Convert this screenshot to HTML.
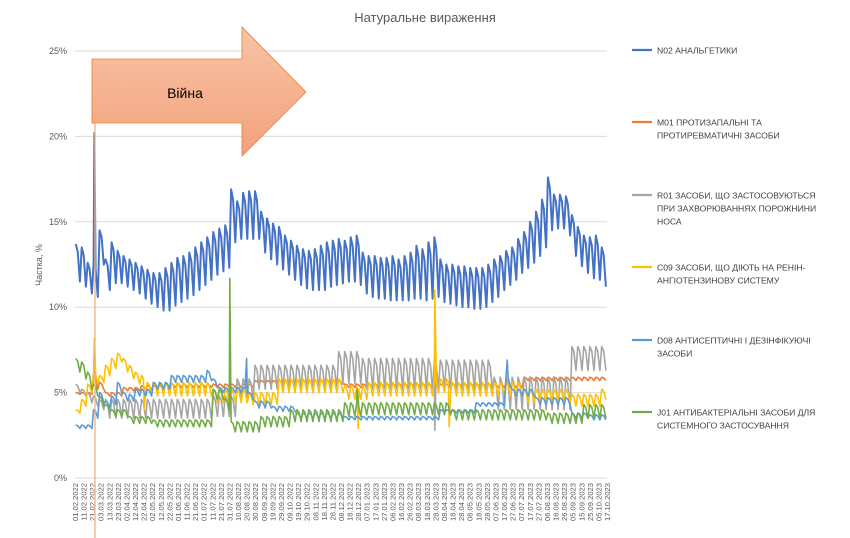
<!DOCTYPE html>
<html><head><meta charset="utf-8">
<style>
html,body{margin:0;padding:0;background:#fff;}
svg{display:block;font-family:"Liberation Sans",sans-serif;}
</style></head>
<body>
<svg id="chart" width="850" height="538" viewBox="0 0 850 538" xmlns="http://www.w3.org/2000/svg">
<defs>
<linearGradient id="arrowGrad" x1="0" y1="0" x2="0" y2="1">
<stop offset="0" stop-color="#f8c4a6"/><stop offset="1" stop-color="#f3a17c"/>
</linearGradient>
</defs>
<text x="425" y="22" text-anchor="middle" font-size="13" fill="#595959">Натуральне вираження</text>
<text transform="translate(42,265) rotate(-90)" text-anchor="middle" font-size="9" fill="#595959">Частка, %</text>
<g id="grid"></g>
<g id="ylabels"></g>
<g id="xlabels"></g>
<g id="series"></g>
<line x1="95" y1="59" x2="95" y2="538" stroke="#f4b183" stroke-width="1.3"/>
<g>
<polygon points="92,59 242,59 242,27 306,92 242,156 242,123 92,123" fill="url(#arrowGrad)" stroke="#ed7d31" stroke-width="0.8"/>
<text x="185" y="98" text-anchor="middle" font-size="14" fill="#000">Війна</text>
</g>
<g id="legend"></g>
</svg>
<script>
const weeks = 89;
const yTicks = [0,5,10,15,20,25];
const xLabels = ["01.02.2022","11.02.2022","21.02.2022","03.03.2022","13.03.2022","23.03.2022","02.04.2022","12.04.2022","22.04.2022","02.05.2022","12.05.2022","22.05.2022","01.06.2022","11.06.2022","21.06.2022","01.07.2022","11.07.2022","21.07.2022","31.07.2022","10.08.2022","20.08.2022","30.08.2022","09.09.2022","19.09.2022","29.09.2022","09.10.2022","19.10.2022","29.10.2022","08.11.2022","18.11.2022","28.11.2022","08.12.2022","18.12.2022","28.12.2022","07.01.2023","17.01.2023","27.01.2023","06.02.2023","16.02.2023","26.02.2023","08.03.2023","18.03.2023","28.03.2023","08.04.2023","18.04.2023","28.04.2023","08.05.2023","18.05.2023","28.05.2023","07.06.2023","17.06.2023","27.06.2023","07.07.2023","17.07.2023","27.07.2023","06.08.2023","16.08.2023","26.08.2023","05.09.2023","15.09.2023","25.09.2023","05.10.2023","17.10.2023"];

const seriesNames = ["N02 АНАЛЬГЕТИКИ","M01 ПРОТИЗАПАЛЬНІ ТА|ПРОТИРЕВМАТИЧНІ ЗАСОБИ","R01 ЗАСОБИ, ЩО ЗАСТОСОВУЮТЬСЯ|ПРИ ЗАХВОРЮВАННЯХ ПОРОЖНИНИ|НОСА","C09 ЗАСОБИ, ЩО ДІЮТЬ НА РЕНІН-|АНГІОТЕНЗИНОВУ СИСТЕМУ","D08 АНТИСЕПТИЧНІ І ДЕЗІНФІКУЮЧІ|ЗАСОБИ","J01 АНТИБАКТЕРІАЛЬНІ ЗАСОБИ ДЛЯ|СИСТЕМНОГО ЗАСТОСУВАННЯ"];

const n02Hi = [13.7,13.5,12.6,12.6,14.5,12.8,13.8,13.3,13.0,12.8, 12.6,12.4,12.2,12.0,12.0,12.3,12.6,12.9,13.0,13.2, 13.5,13.8,14.1,14.4,14.6,14.8,16.9,16.2,16.7,16.8, 16.8,15.6,15.2,14.9,14.7,14.2,13.9,13.6,13.4,13.3, 13.4,13.6,13.8,13.9,14.0,13.9,14.1,14.2,13.2,13.0, 13.0,12.9,12.9,13.0,12.8,13.0,13.2,13.6,13.4,13.8, 14.1,12.8,12.5,12.5,12.4,12.4,12.3,12.3,12.3,12.5, 12.8,13.0,13.3,13.5,14.0,14.4,15.0,15.6,16.3,17.6, 16.6,16.6,16.5,15.4,14.7,14.2,14.1,14.2,13.5];
const n02Lo = [11.5,11.2,10.8,10.6,12.5,11.0,11.4,11.4,11.2,11.0, 10.8,10.5,10.2,10.0,9.8,9.8,10.1,10.3,10.5,10.7, 11.0,11.3,11.6,11.9,12.1,12.3,13.8,14.0,14.0,14.0, 14.0,13.2,12.8,12.5,12.2,11.9,11.6,11.3,11.1,11.0, 11.0,11.0,11.2,11.3,11.4,11.5,11.5,11.3,10.8,10.6, 10.5,10.5,10.4,10.4,10.4,10.4,10.5,10.5,10.4,10.5, 10.6,10.3,10.2,10.1,10.0,10.0,9.9,9.9,10.0,10.3, 10.6,11.0,11.3,11.6,12.0,12.3,12.6,13.0,13.5,14.5, 14.6,14.6,14.2,13.0,12.4,12.0,11.7,11.6,11.2];
const n02Spikes = [[3.25,20.2]];

const m01Hi = [5.0,5.0,5.0,5.9,5.6,5.0,5.0,5.0, 5.3,5.3,5.3,5.4,5.4,5.4,5.4,5.5,5.5,5.5,5.5,5.5,5.5, 5.5,5.5,5.5,5.5,5.5,5.5,5.5,5.5,5.5, 5.7,5.7,5.7,5.7,5.7,5.7,5.7,5.7,5.7,5.7,5.7,5.7,5.7,5.7,5.7, 5.5,5.5,5.5,5.5,5.5, 5.5,5.5,5.5,5.5,5.5,5.5,5.5,5.5,5.5,5.5,5.5,5.5,5.5,5.5,5.5,5.5,5.5,5.5,5.5,5.5,5.5,5.5,5.5,5.5,5.5, 5.9,5.9,5.9,5.9,5.9,5.9,5.9,5.9,5.9,5.9,5.9,5.9,5.9,5.9];
const m01Lo = [4.9,4.9,4.9,5.2,5.2,4.8,4.8,4.8, 5.1,5.1,5.1,5.2,5.2,5.2,5.2,5.3,5.3,5.3,5.3,5.3,5.3, 5.3,5.3,5.3,5.3,5.3,5.3,5.3,5.3,5.3, 5.5,5.5,5.5,5.5,5.5,5.5,5.5,5.5,5.5,5.5,5.5,5.5,5.5,5.5,5.5, 5.3,5.3,5.3,5.3,5.3, 5.3,5.3,5.3,5.3,5.3,5.3,5.3,5.3,5.3,5.3,5.3,5.3,5.3,5.3,5.3,5.3,5.3,5.3,5.3,5.3,5.3,5.3,5.3,5.3,5.3, 5.7,5.7,5.7,5.7,5.7,5.7,5.7,5.7,5.7,5.7,5.7,5.7,5.7,5.7];
const m01Spikes = [[3.3,6.7]];

const r01Hi = [5.5,5.2,5.0,4.8,4.6, 4.6,4.6,4.6,4.6,4.6,4.6,4.6,4.6,4.6,4.6,4.6,4.6,4.6,4.6,4.6,4.6,4.6,4.6, 4.8,4.8,4.8,4.8, 5.8,5.8,5.8, 6.6,6.6,6.6,6.6,6.6,6.6,6.6,6.6,6.6,6.6,6.6,6.6,6.6,6.6, 7.4,7.4,7.4,7.4, 7.0,7.0,7.0,7.0,7.0,7.0,7.0,7.0,7.0,7.0,7.0,7.0, 6.9,6.9,6.9,6.9,6.9,6.9,6.9,6.9,6.9,6.9, 5.9,5.9,5.9,5.9,5.9,5.9,5.9,5.9,5.9,5.9,5.9,5.9,5.9, 7.7,7.7,7.7,7.7,7.7,7.7];
const r01Lo = [5.0,4.8,4.4,4.2,4.0, 3.5,3.5,3.5,3.5,3.5,3.5,3.5,3.5,3.5,3.5,3.5,3.5,3.5,3.5,3.5,3.5,3.5,3.5, 3.6,3.6,3.6,3.6, 4.6,4.6,4.6, 5.2,5.2,5.2,5.2,5.2,5.2,5.2,5.2,5.2,5.2,5.2,5.2,5.2,5.2, 5.5,5.5,5.5,5.5, 5.2,5.2,5.2,5.2,5.2,5.2,5.2,5.2,5.2,5.2,5.2,5.2, 5.2,5.2,5.2,5.2,5.2,5.2,5.2,5.2,5.2,5.2, 4.0,4.0,4.0,4.0,4.0,4.0,4.0,4.0,4.0,4.0,4.0,4.0,4.0, 6.3,6.3,6.3,6.3,6.3,6.3];
const r01Spikes = [[60.2,2.8]];

const c09Hi = [4.0,4.6,5.5,6.2,6.0,6.6,7.0,7.3,7.0,6.6,6.2,6.0, 5.6,5.6,5.6,5.6,5.6,5.6,5.6,5.6,5.6,5.6,5.6, 5.2,5.2,5.2,5.2,5.2,5.2, 5.0,5.0,5.0,5.0,5.0, 5.8,5.8,5.8,5.8,5.8,5.8,5.8,5.8,5.8,5.8,5.8, 5.4,5.4,5.4,5.4, 5.6,5.6,5.6,5.6,5.6,5.6,5.6,5.6,5.6,5.6,5.6, 5.8,5.8,5.8, 5.6,5.6,5.6,5.6,5.6,5.6,5.6,5.6,5.6,5.6,5.6,5.6, 5.2,5.2,5.2,5.2,5.2,5.2,5.2,5.2, 4.9,4.9,4.9,4.9,4.9, 5.2];
const c09Lo = [3.8,4.2,5.0,5.5,5.6,6.0,6.4,6.8,6.2,5.8,5.5,5.2, 4.8,4.8,4.8,4.8,4.8,4.8,4.8,4.8,4.8,4.8,4.8, 4.4,4.4,4.4,4.4,4.4,4.4, 4.3,4.3,4.3,4.3,4.3, 5.0,5.0,5.0,5.0,5.0,5.0,5.0,5.0,5.0,5.0,5.0, 4.6,4.6,4.6,4.6, 4.8,4.8,4.8,4.8,4.8,4.8,4.8,4.8,4.8,4.8,4.8, 5.0,5.0,5.0, 4.8,4.8,4.8,4.8,4.8,4.8,4.8,4.8,4.8,4.8,4.8,4.8, 4.4,4.4,4.4,4.4,4.4,4.4,4.4,4.4, 4.2,4.2,4.2,4.2,4.2, 4.6];
const c09Spikes = [[3.25,8.2],[11.6,4.0],[47.4,2.9],[60.2,11.0],[62.6,3.0]];

const d08Hi = [3.1,3.1,3.1,4.0,5.0,4.5,4.8,5.6,5.0,4.9, 5.2,5.2,5.2, 5.6,5.6,5.6, 6.0,6.0,6.0,6.0,6.0,6.0, 6.3, 5.8, 5.3,5.3,5.3,5.3, 5.3, 5.0, 4.5,4.5,4.5, 4.2,4.2,4.2,4.2, 3.8,3.8,3.8,3.8,3.8,3.8,3.8,3.8, 3.6,3.6,3.6,3.6,3.6,3.6,3.6,3.6,3.6,3.6,3.6,3.6,3.6,3.6,3.6,3.6, 4.0,4.0,4.0,4.0,4.0,4.0, 4.4,4.4,4.4,4.4,4.4, 6.0, 5.2,5.2,5.2,5.2, 4.7,4.7,4.7,4.7,4.7,4.7, 3.8,3.8,3.8, 3.7,3.7,3.7];
const d08Lo = [2.9,2.9,2.9,3.5,4.4,4.1,4.3,5.0,4.5,4.5, 4.8,4.8,4.8, 5.2,5.2,5.2, 5.6,5.6,5.6,5.6,5.6,5.6, 5.7, 5.3, 5.0,5.0,5.0,5.0, 5.0, 4.6, 4.1,4.1,4.1, 3.9,3.9,3.9,3.9, 3.5,3.5,3.5,3.5,3.5,3.5,3.5,3.5, 3.4,3.4,3.4,3.4,3.4,3.4,3.4,3.4,3.4,3.4,3.4,3.4,3.4,3.4,3.4,3.4, 3.8,3.8,3.8,3.8,3.8,3.8, 4.2,4.2,4.2,4.2,4.2, 5.4, 4.8,4.8,4.8,4.8, 4.3,4.3,4.3,4.3,4.3,4.3, 3.5,3.5,3.5, 3.4,3.4,3.4];
const d08Spikes = [[28.7,7.0],[72.3,6.9]];

const j01Hi = [7.0,6.8,6.2,5.5,4.8,4.3, 4.0,4.0,4.0, 3.6,3.6,3.6,3.6, 3.4,3.4,3.4,3.4,3.4,3.4,3.4,3.4,3.4,3.4, 5.2,5.2, 4.6, 3.3,3.3,3.3,3.3,3.3, 3.6,3.6,3.6,3.6,3.6, 4.0,4.0,4.0,4.0,4.0,4.0,4.0,4.0,4.0, 4.4,4.4,4.4, 4.4,4.4,4.4,4.4,4.4,4.4,4.4,4.4,4.4,4.4,4.4,4.4,4.4,4.4,4.4, 4.0,4.0,4.0,4.0,4.0,4.0,4.0,4.0,4.0,4.0,4.0,4.0,4.0,4.0,4.0,4.0, 3.8,3.8,3.8,3.8,3.8,3.8, 4.3,4.3,4.3,4.3];
const j01Lo = [6.2,5.8,5.2,4.8,4.2,3.9, 3.6,3.6,3.6, 3.2,3.2,3.2,3.2, 3.0,3.0,3.0,3.0,3.0,3.0,3.0,3.0,3.0,3.0, 4.6,4.6, 4.0, 2.7,2.7,2.7,2.7,2.7, 3.0,3.0,3.0,3.0,3.0, 3.3,3.3,3.3,3.3,3.3,3.3,3.3,3.3,3.3, 3.6,3.6,3.6, 3.7,3.7,3.7,3.7,3.7,3.7,3.7,3.7,3.7,3.7,3.7,3.7,3.7,3.7,3.7, 3.4,3.4,3.4,3.4,3.4,3.4,3.4,3.4,3.4,3.4,3.4,3.4,3.4,3.4,3.4,3.4, 3.2,3.2,3.2,3.2,3.2,3.2, 3.5,3.5,3.5,3.5];
const j01Spikes = [[25.9,11.7],[47.2,5.2]];

const NS = "http://www.w3.org/2000/svg";
const PL = 75, PR = 607, PT = 51, PB = 478, YMAX = 25;
function xScale(w){ return PL + w * (PR - PL) / weeks; }
function yScale(v){ return PB - v * (PB - PT) / YMAX; }
function mk(tag, attrs, parent){
  const el = document.createElementNS(NS, tag);
  for (const k in attrs) el.setAttribute(k, attrs[k]);
  parent.appendChild(el);
  return el;
}

const grid = document.getElementById('grid');
const ylab = document.getElementById('ylabels');
yTicks.forEach(t => {
  const ln = mk('line', {x1:PL, x2:PR, y1:yScale(t), y2:yScale(t), stroke:'#d9d9d9', 'stroke-width':1}, grid);
  
  
  const tx = mk('text', {x:67, y:yScale(t)+3, 'text-anchor':'end', 'font-size':9, fill:'#595959'}, ylab);
  tx.textContent = t + '%';
  
  
});

const xlab = document.getElementById('xlabels');
xLabels.forEach((s, i) => {
  const x = PL + i * (PR - PL) / (xLabels.length - 1);
  const tx = mk('text', {transform:'translate(' + (x+3) + ',483) rotate(-90)', 'text-anchor':'end', 'font-size':7.6, fill:'#595959'}, xlab);
  tx.textContent = s;
  
  
});

function buildPoints(hi, lo, spikes){
  const pts = [];
  for (let w = 0; w < hi.length; w++){
    pts.push([w + 0.12, hi[w]]);
    pts.push([w + 0.45, hi[w] * 0.8 + lo[w] * 0.2]);
    pts.push([w + 0.82, lo[w]]);
  }
  spikes.forEach(s => pts.push([s[0], s[1]]));
  pts.sort((a, b) => a[0] - b[0]);
  return pts.map(p => xScale(p[0]).toFixed(1) + ',' + yScale(p[1]).toFixed(1)).join(' ');
}

const seriesDefs = [
  {key:'n02', hi:n02Hi, lo:n02Lo, sp:n02Spikes, color:'#4472c4', w:2},
  {key:'m01', hi:m01Hi, lo:m01Lo, sp:m01Spikes, color:'#ed7d31', w:1.6},
  {key:'r01', hi:r01Hi, lo:r01Lo, sp:r01Spikes, color:'#a5a5a5', w:1.6},
  {key:'c09', hi:c09Hi, lo:c09Lo, sp:c09Spikes, color:'#ffc000', w:1.6},
  {key:'d08', hi:d08Hi, lo:d08Lo, sp:d08Spikes, color:'#5b9bd5', w:1.6},
  {key:'j01', hi:j01Hi, lo:j01Lo, sp:j01Spikes, color:'#70ad47', w:1.6}
];
const sg = document.getElementById('series');
seriesDefs.forEach(s => {
  const pl = mk('polyline', {points:buildPoints(s.hi, s.lo, s.sp), fill:'none', stroke:s.color, 'stroke-width':s.w, 'stroke-linejoin':'round'}, sg);
  
  
});

const legendY = [50, 122, 195, 267, 340, 412];
const lg = document.getElementById('legend');
seriesNames.forEach((name, i) => {
  const g = mk('g', {}, lg);
  
  
  mk('line', {x1:632, x2:652, y1:legendY[i], y2:legendY[i], stroke:seriesDefs[i].color, 'stroke-width':2.2}, g);
  name.split('|').forEach((ln, j) => {
    const tx = mk('text', {x:657, y:legendY[i] + 3.5 + j*13, 'font-size':8.6, fill:'#404040'}, g);
    tx.textContent = ln;
  });
});
</script>
</body></html>
